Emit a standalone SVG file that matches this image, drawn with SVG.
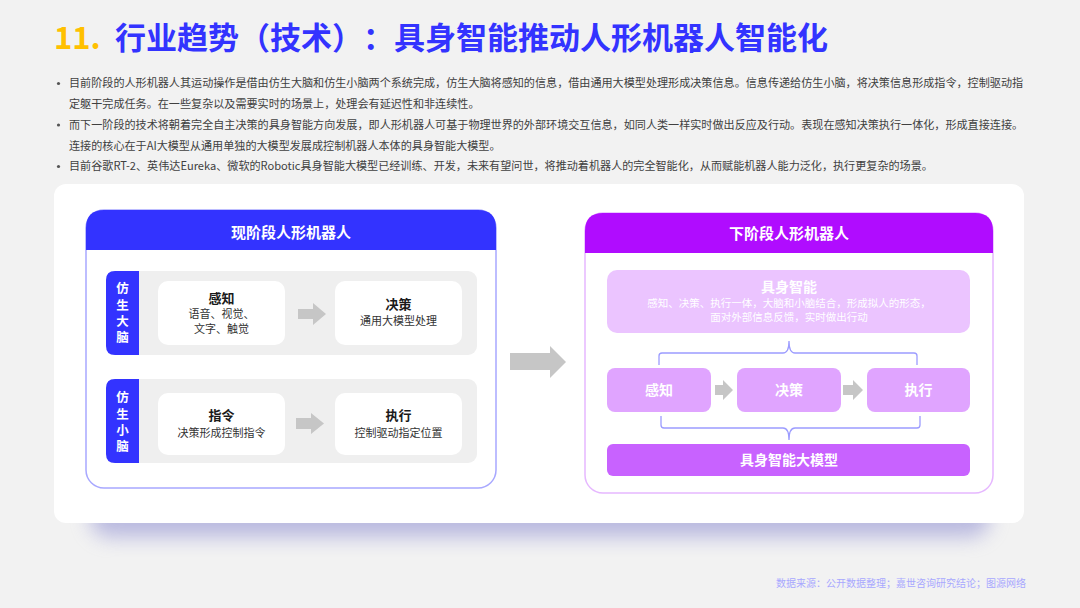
<svg xmlns="http://www.w3.org/2000/svg" width="1080" height="608" viewBox="0 0 1080 608">
<defs>
<style>
text{font-family:"Noto Sans CJK SC","Noto Sans",sans-serif;}
.title{font-size:31px;font-weight:700;fill:#3333ff;text-spacing-trim:space-all;}
.num{font-size:31px;font-weight:700;fill:#ffc000;}
.body{font-size:11.1px;fill:#404040;}
.hdr{font-size:15px;font-weight:700;fill:#ffffff;text-anchor:middle;}
.tab{font-size:12.5px;font-weight:700;fill:#ffffff;text-anchor:middle;writing-mode:tb;letter-spacing:3.8px;}
.bt{font-size:13px;font-weight:700;fill:#1a1a1a;text-anchor:middle;}
.bs{font-size:11px;fill:#333333;text-anchor:middle;}
.wt{font-size:14px;font-weight:700;fill:#ffffff;text-anchor:middle;}
.ws{font-size:10.5px;fill:#ffffff;text-anchor:middle;}
.garrow{fill:#c6c6c6;}
.brace{fill:none;stroke:#9c9cff;stroke-width:1.3;}
.foot{font-size:10px;fill:#a8a8ff;text-anchor:end;}
</style>
<filter id="blur" x="-20%" y="-50%" width="140%" height="200%"><feGaussianBlur stdDeviation="10"/></filter>
</defs>
<rect x="0" y="0" width="1080" height="608" fill="#f2f2f2"/>

<g id="title">
<text class="num" x="54" y="49">11.</text>
<text class="title" x="115" y="49">行业趋势（技术）：具身智能推动人形机器人智能化</text>
</g>

<g id="bullets">
<circle cx="58.5" cy="83.5" r="1.6" fill="#555"/>
<circle cx="58.5" cy="125" r="1.6" fill="#555"/>
<circle cx="58.5" cy="166.5" r="1.6" fill="#555"/>
<text class="body" x="69" y="87">目前阶段的人形机器人其运动操作是借由仿生大脑和仿生小脑两个系统完成，仿生大脑将感知的信息，借由通用大模型处理形成决策信息。信息传递给仿生小脑，将决策信息形成指令，控制驱动指</text>
<text class="body" x="69" y="108">定躯干完成任务。在一些复杂以及需要实时的场景上，处理会有延迟性和非连续性。</text>
<text class="body" x="69" y="129">而下一阶段的技术将朝着完全自主决策的具身智能方向发展，即人形机器人可基于物理世界的外部环境交互信息，如同人类一样实时做出反应及行动。表现在感知决策执行一体化，形成直接连接。</text>
<text class="body" x="69" y="150">连接的核心在于AI大模型从通用单独的大模型发展成控制机器人本体的具身智能大模型。</text>
<text class="body" x="69" y="170">目前谷歌RT-2、英伟达Eureka、微软的Robotic具身智能大模型已经训练、开发，未来有望问世，将推动着机器人的完全智能化，从而赋能机器人能力泛化，执行更复杂的场景。</text>
</g>

<g id="card">
<rect x="90" y="495" width="900" height="42" rx="20" fill="#8a8ad0" opacity="0.55" filter="url(#blur)"/>
<rect x="54" y="184" width="970" height="339" rx="12" fill="#ffffff"/>
</g>

<g id="left-panel">
<rect x="86" y="210" width="410" height="278" rx="18" fill="#ffffff" stroke="#a8a8ff" stroke-width="1.5"/>
<path d="M86,250 V228 Q86,210 104,210 H478 Q496,210 496,228 V250 Z" fill="#3333ff"/>
<text class="hdr" x="291" y="238">现阶段人形机器人</text>
</g>

<g id="row-brain">
<rect x="106" y="271" width="371" height="84" rx="9" fill="#efefef"/>
<path d="M139,271 H115 Q106,271 106,280 V346 Q106,355 115,355 H139 Z" fill="#3333ff"/>
<text class="tab" x="122.5" y="315">仿生大脑</text>
</g>
<g id="node-perceive">
<rect x="158" y="281" width="127" height="64" rx="10" fill="#ffffff"/>
<text class="bt" x="221.5" y="303">感知</text>
<text class="bs" x="221.5" y="318">语音、视觉、</text>
<text class="bs" x="221.5" y="333">文字、触觉</text>
</g>
<g id="node-decide">
<rect x="335" y="281" width="127" height="64" rx="10" fill="#ffffff"/>
<text class="bt" x="398.5" y="309">决策</text>
<text class="bs" x="398.5" y="325">通用大模型处理</text>
</g>

<g id="row-cerebellum">
<rect x="106" y="379" width="371" height="84" rx="9" fill="#efefef"/>
<path d="M139,379 H115 Q106,379 106,388 V454 Q106,463 115,463 H139 Z" fill="#3333ff"/>
<text class="tab" x="122.5" y="424">仿生小脑</text>
</g>
<g id="node-command">
<rect x="158" y="393" width="127" height="62" rx="10" fill="#ffffff"/>
<text class="bt" x="221.5" y="420">指令</text>
<text class="bs" x="221.5" y="437">决策形成控制指令</text>
</g>
<g id="node-execute">
<rect x="335" y="393" width="127" height="62" rx="10" fill="#ffffff"/>
<text class="bt" x="398.5" y="420">执行</text>
<text class="bs" x="398.5" y="437">控制驱动指定位置</text>
</g>

<g id="right-panel">
<rect x="585" y="213" width="408" height="280" rx="18" fill="#ffffff" stroke="#e6b8ff" stroke-width="1.5"/>
<path d="M585,253 V231 Q585,213 603,213 H975 Q993,213 993,231 V253 Z" fill="#b00cff"/>
<text class="hdr" x="789" y="239">下阶段人形机器人</text>
</g>
<g id="node-embodied">
<rect x="607" y="270" width="363" height="63" rx="10" fill="#ebc4ff"/>
<text class="wt" x="789" y="292">具身智能</text>
<text class="ws" x="789" y="307">感知、决策、执行一体，大脑和小脑结合，形成拟人的形态，</text>
<text class="ws" x="789" y="321">面对外部信息反馈，实时做出行动</text>
</g>
<g id="node-r-perceive">
<rect x="607" y="368" width="104" height="44" rx="8" fill="#e0a4ff"/>
<text class="wt" x="659" y="395">感知</text>
</g>
<g id="node-r-decide">
<rect x="737" y="368" width="104" height="44" rx="8" fill="#e0a4ff"/>
<text class="wt" x="789" y="395">决策</text>
</g>
<g id="node-r-execute">
<rect x="867" y="368" width="103" height="44" rx="8" fill="#e0a4ff"/>
<text class="wt" x="918.5" y="395">执行</text>
</g>
<g id="node-model">
<rect x="607" y="444" width="363" height="32" rx="6" fill="#c862ff"/>
<text class="wt" x="789" y="465">具身智能大模型</text>
</g>

<g id="connectors">
<polygon class="garrow" points="298,309 313,309 313,303 326,314 313,325 313,319 298,319"/>
<polygon class="garrow" points="296,418 311,418 311,413 324,423.5 311,434 311,429 296,429"/>
<polygon class="garrow" points="510,353 550,353 550,346 566,362 550,378 550,370 510,370"/>
<polygon class="garrow" points="715,385 723,385 723,380 733,390 723,400 723,395 715,395"/>
<polygon class="garrow" points="843,385 853,385 853,380 863,390 853,400 853,395 843,395"/>
<path class="brace" d="M659,365 V356 Q659,353 662,353 H783 Q789,353 789,341 Q789,353 795,353 H914 Q917,353 917,356 V365"/>
<path class="brace" d="M661,416 V425 Q661,428 664,428 H783 Q789,428 789,440 Q789,428 795,428 H917 Q920,428 920,425 V416"/>
</g>

<g id="footer">
<text class="foot" x="1026" y="587">数据来源：公开数据整理；嘉世咨询研究结论；图源网络</text>
</g>
</svg>
